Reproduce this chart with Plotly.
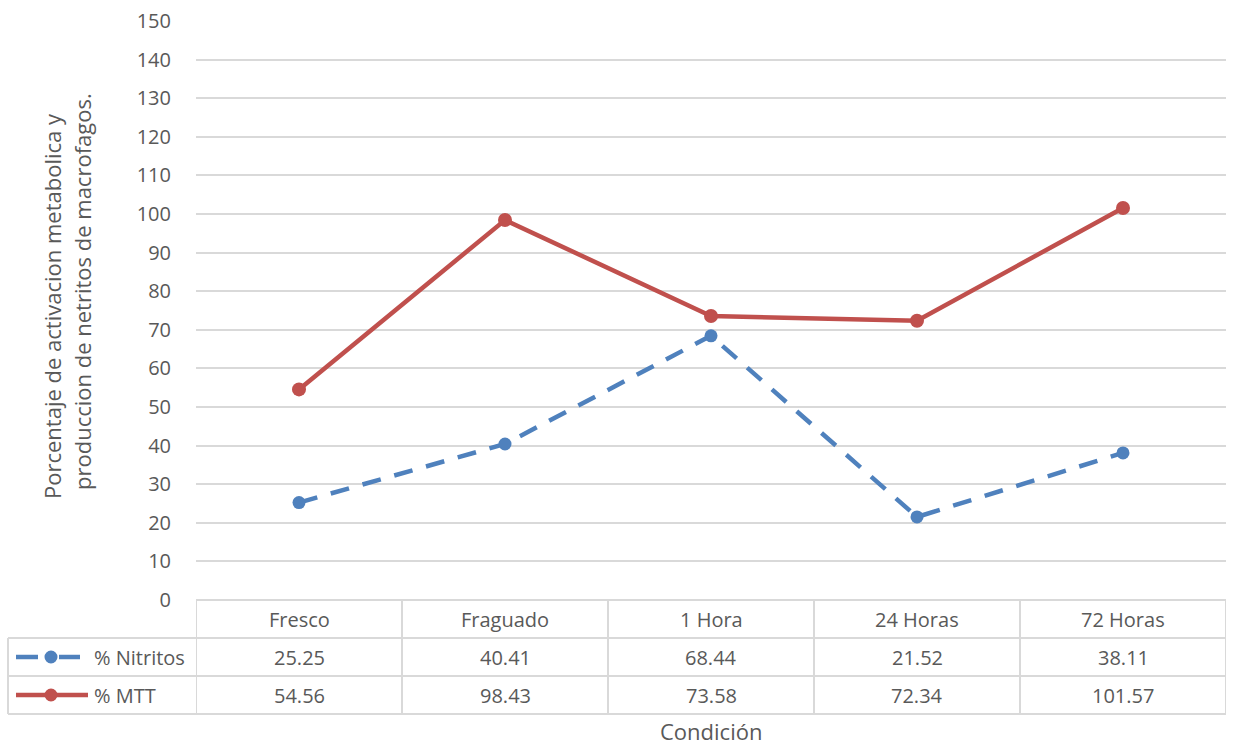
import plotly.graph_objects as go

# Data
condiciones = ["Fresco", "Fraguado", "1 Hora", "24 Horas", "72 Horas"]
nitritos = [25.25, 40.41, 68.44, 21.52, 38.11]
mtt = [54.56, 98.43, 73.58, 72.34, 101.57]
serie_nombres = ["% Nitritos", "% MTT"]

AZUL = "#4F81BD"
ROJO = "#C0504D"
GRIS_TXT = "#595959"
GRIS_LINEA = "#D9D9D9"
FUENTE = "Open Sans, sans-serif"
TAM = 20
TAM_TIT = 22

W, H = 1233, 748
L, R, T, B = 196, 7, 21, 148
PW, PH = W - L - R, H - T - B


def px_x(p):
    return (p - L) / PW


def px_y(p):
    return (H - B - p) / PH


def texto(x, y, s, xref="paper", size=TAM, **kw):
    d = dict(x=x, xref=xref, y=y, yref="paper", text=s, showarrow=False,
             xanchor="center", yanchor="middle",
             font=dict(size=size, color=GRIS_TXT, family=FUENTE))
    d.update(kw)
    return d


fig = go.Figure()
fig.add_trace(go.Scatter(
    x=condiciones, y=nitritos, mode="lines+markers", name=serie_nombres[0],
    line=dict(color=AZUL, width=4.5, dash="19px,14px"),
    marker=dict(symbol="circle", size=13, color=AZUL),
))
fig.add_trace(go.Scatter(
    x=condiciones, y=mtt, mode="lines+markers", name=serie_nombres[1],
    line=dict(color=ROJO, width=4.5),
    marker=dict(symbol="circle", size=14, color=ROJO),
))

shapes = []
annotations = []

# Data table under the plot: row boundaries in pixels
y_top, y_r1, y_r2, y_bot = 600, 638, 676, 714
x_leg = 8

# horizontal rules
shapes.append(dict(type="line", xref="paper", yref="paper", x0=0, x1=1,
                   y0=px_y(y_top), y1=px_y(y_top), line=dict(color=GRIS_LINEA, width=2)))
for yy in (y_r1, y_r2, y_bot):
    shapes.append(dict(type="line", xref="paper", yref="paper", x0=px_x(x_leg), x1=1,
                       y0=px_y(yy), y1=px_y(yy), line=dict(color=GRIS_LINEA, width=2)))
# vertical rules at category boundaries
for i in range(len(condiciones) + 1):
    shapes.append(dict(type="line", xref="x", yref="paper", x0=i - 0.5, x1=i - 0.5,
                       y0=px_y(y_top), y1=px_y(y_bot), line=dict(color=GRIS_LINEA, width=2)))
shapes.append(dict(type="line", xref="paper", yref="paper", x0=px_x(x_leg), x1=px_x(x_leg),
                   y0=px_y(y_r1), y1=px_y(y_bot), line=dict(color=GRIS_LINEA, width=2)))

# header labels and values
filas = [nitritos, mtt]
centros = [(y_r1 + y_r2) / 2, (y_r2 + y_bot) / 2]
for i, c in enumerate(condiciones):
    annotations.append(texto(c, px_y((y_top + y_r1) / 2), c, xref="x"))
    for vals, yc in zip(filas, centros):
        annotations.append(texto(c, px_y(yc), f"{vals[i]:.2f}", xref="x"))

# legend keys inside the table
for nombre, color, yc, dashed in zip(serie_nombres, [AZUL, ROJO], centros, [True, False]):
    segs = [(16, 38), (46, 56), (59, 80)] if dashed else [(16, 88)]
    for a, b in segs:
        shapes.append(dict(type="line", xref="paper", yref="paper",
                           x0=px_x(a), x1=px_x(b), y0=px_y(yc), y1=px_y(yc),
                           line=dict(color=color, width=4.5)))
    cx = 51
    r = 6.5
    shapes.append(dict(type="circle", xref="paper", yref="paper",
                       x0=px_x(cx - r), x1=px_x(cx + r), y0=px_y(yc + r), y1=px_y(yc - r),
                       fillcolor=color, line=dict(color=color, width=0)))
    annotations.append(texto(px_x(92), px_y(yc), nombre, xanchor="left"))

# axis titles
annotations.append(texto(px_x(52), px_y(306), "Porcentaje de activacion metabolica y",
                         size=TAM_TIT, textangle=-90))
annotations.append(texto(px_x(82), px_y(292), "produccion de netritos de macrofagos.",
                         size=TAM_TIT, textangle=-90))
annotations.append(texto(px_x(711), px_y(731), "Condición", size=TAM_TIT))

fig.update_layout(
    width=W, height=H,
    margin=dict(l=L, r=R, t=T, b=B),
    paper_bgcolor="white", plot_bgcolor="white",
    showlegend=False,
    shapes=shapes, annotations=annotations,
    font=dict(family=FUENTE, color=GRIS_TXT, size=TAM),
)
fig.update_xaxes(range=[-0.5, 4.5], showticklabels=False, showgrid=False,
                 zeroline=False, showline=False)
fig.update_yaxes(range=[0, 150], dtick=10, showgrid=True, gridcolor=GRIS_LINEA, gridwidth=2,
                 zeroline=False, showline=False, ticks="", ticklabelstandoff=24,
                 tickfont=dict(size=TAM, color=GRIS_TXT, family=FUENTE))

fig.write_html("out.html")
